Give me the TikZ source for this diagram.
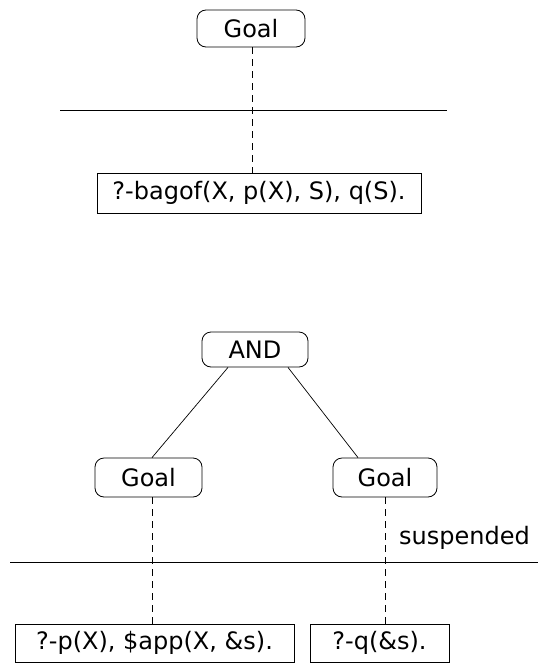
\documentclass[tikz,border=0pt]{standalone}
\usepackage{fontspec}
\setmainfont{DejaVu Sans}
\begin{document}
\begin{tikzpicture}[x=1pt,y=-1pt,
  lbl/.style={font=\fontsize{24}{26}\selectfont},
  goalbox/.style={lbl,draw,rounded corners=9pt,line width=0.8pt,inner sep=0pt},
  termbox/.style={lbl,draw,line width=0.8pt,inner sep=0pt},
  vdash/.style={line width=1pt,dash pattern=on 7pt off 5pt},
  hline/.style={line width=0.6pt},
  edge/.style={line width=0.7pt}]
\useasboundingbox (0,0) rectangle (538,664);
% top part
\node[goalbox,minimum width=108pt,minimum height=37pt] (g0) at (251,28.5) {Goal};
\node[termbox,minimum width=324pt,minimum height=40pt] (t0) at (259,193) {?-bagof(X, p(X), S), q(S).};
\coordinate (h0l) at (60,110);
\coordinate (h0r) at (447,110);
\draw[hline] (h0l) -- (h0r);
\draw[vdash] (g0.south -| 252,0) -- (t0.north -| 252,0);
% bottom part
\node[goalbox,minimum width=106pt,minimum height=35pt] (and) at (255,349.5) {AND};
\node[goalbox,minimum width=107pt,minimum height=39pt] (gl) at (148.5,477.5) {Goal};
\node[goalbox,minimum width=104pt,minimum height=39pt] (gr) at (385,477.5) {Goal};
\draw[edge] ([xshift=-27pt]and.south) -- ([xshift=3.5pt]gl.north);
\draw[edge] ([xshift=33pt]and.south) -- ([xshift=-27pt]gr.north);
\node[termbox,minimum width=279pt,minimum height=38pt] (tl) at (154.5,643) {?-p(X), \$app(X, \&s).};
\node[termbox,minimum width=139pt,minimum height=38pt] (tr) at (379.5,643) {?-q(\&s).};
\coordinate (h1l) at (10,562);
\coordinate (h1r) at (538,562);
\draw[hline] (h1l) -- (h1r);
\draw[vdash] (gl.south -| 152,0) -- (tl.north -| 152,0);
\draw[vdash] (gr.south -| 385,0) -- (tr.north -| 385,0);
\node[lbl,anchor=base west,inner sep=0pt] (sus) at (399,544) {suspended};
\end{tikzpicture}
\end{document}
